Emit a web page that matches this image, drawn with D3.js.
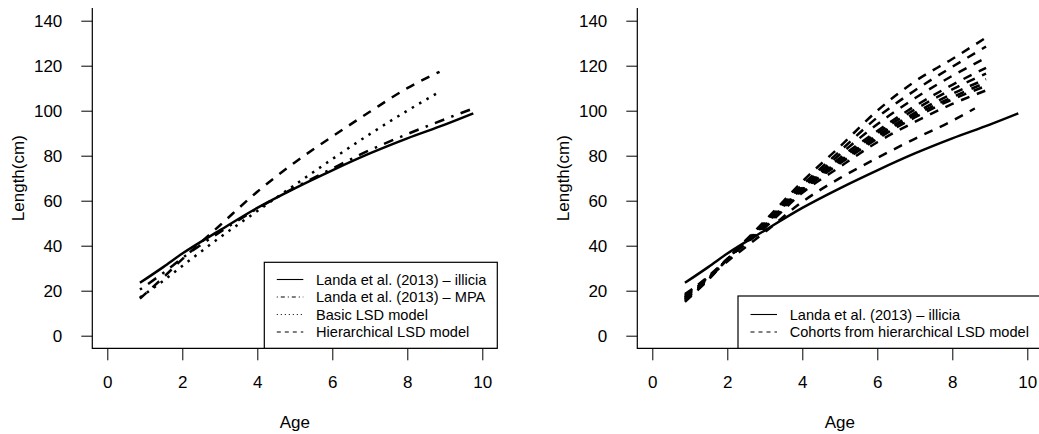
<!DOCTYPE html>
<html><head><meta charset="utf-8">
<script src="https://cdn.jsdelivr.net/npm/d3@7"></script>
<style>
body{margin:0;background:#fff;}
svg{display:block;font-family:"Liberation Sans",Arial,Helvetica,sans-serif;}
</style></head>
<body>
<svg id="chart" width="1039" height="434"></svg>
<script>
// ---------- data ----------
const xTicks = [0, 2, 4, 6, 8, 10];
const yTicks = [0, 20, 40, 60, 80, 100, 120, 140];

const illiciaAge = [0.87, 1.5, 2, 3, 4, 5, 6, 7, 8, 9, 9.76];
const illiciaLen = [23.5, 30.6, 36.5, 46.8, 56.8, 65.5, 73.5, 81, 87.7, 93.8, 98.8];

const mpaAge = [0.87, 1.5, 2, 3, 4, 5, 6, 7, 8, 9, 9.76];
const mpaLen = [20.5, 28, 34.5, 46, 56.5, 65.8, 74.3, 82.5, 89.6, 96.2, 101];

const basicAge = [0.87, 1.5, 2, 3, 4, 5, 6, 7, 8, 8.87];
const basicLen = [17, 24.5, 31, 43.6, 55.4, 67, 78.5, 89.6, 100, 108.5];

const hierAge = [0.87, 1.5, 2, 2.5, 3, 4, 5, 6, 7, 8, 8.86];
const hierLen = [16.5, 26, 34, 41.5, 49, 64, 77, 88.5, 99.5, 110, 117.3];

const cohortAge = [0.87, 1.5, 2, 3, 4, 5, 6, 7, 8, 8.9];
const cohort1 = [15, 25, 34, 51, 68.5, 84, 100, 113, 123, 132.5];
const cohort2 = [15.5, 25, 34, 50.5, 67, 82, 97, 109, 119.5, 128.5];
const cohort3 = [16, 25.5, 34, 50, 66, 80.5, 94, 105.5, 115.5, 123.5];
const cohort4 = [16, 25.5, 34, 49.5, 65.5, 79, 91, 102, 111.5, 119];
const cohort5 = [16.5, 25.5, 34, 49.5, 65.5, 78, 90, 100.5, 109.5, 116.5];
const cohort6 = [17, 26, 34, 49, 65, 77.5, 89, 99, 107.5, 114];
const cohort7 = [17, 26, 34, 49, 65, 77, 88.5, 98, 106, 112.5];
const cohort8 = [17.5, 26, 34, 48.5, 64.5, 76.5, 87.5, 97, 105, 111];
const cohort9 = [18, 26.5, 34, 48, 63.5, 75, 86, 95, 103, 109];
const lowCohortAge = [0.87, 1.5, 2, 3, 4, 5, 6, 7, 8, 8.6];
const lowCohortLen = [18.5, 26, 33, 46, 59.5, 70, 79, 87.5, 95.5, 101];

const leftLegend = ["Landa et al. (2013) \u2013 illicia", "Landa et al. (2013) \u2013 MPA", "Basic LSD model", "Hierarchical LSD model"];
const rightLegend = ["Landa et al. (2013) \u2013 illicia", "Cohorts from hierarchical LSD model"];

// ---------- drawing ----------
const svg = d3.select("#chart");
const DASH = {solid: null, dashdot: "2.5,7.5,10,7.5", dotted: "2.5,6", dashed: "9,8"};
const LDASH = {solid: null, dashdot: "1,3,4,3", dotted: "1,3", dashed: "4,4"};

function panel(x0) {
  const x = d3.scaleLinear().domain([-0.4, 10.4]).range([x0, x0 + 405]);
  const y = d3.scaleLinear().domain([-5.6, 145.6]).range([348.3, 8.1]);
  const g = svg.append("g");
  const ya = g.append("g").attr("transform", `translate(${x0},0)`)
    .call(d3.axisLeft(y).tickValues(yTicks).tickSize(11).tickPadding(19));
  ya.select(".domain").remove();
  ya.selectAll("text").attr("font-size", 17).attr("fill", "#000").attr("font-family", null);
  ya.selectAll("line").attr("stroke", "#000");
  const xa = g.append("g").attr("transform", `translate(0,${y(-5.6)})`)
    .call(d3.axisBottom(x).tickValues(xTicks).tickSize(12).tickPadding(16).tickFormat(d3.format("d")));
  xa.select(".domain").remove();
  xa.selectAll("text").attr("font-size", 17).attr("fill", "#000").attr("font-family", null);
  xa.selectAll("line").attr("stroke", "#000");
  g.append("path").attr("fill", "none").attr("stroke", "#000").attr("stroke-width", 1.2)
    .attr("d", `M${x0},${y(145.6)}V${y(-5.6)}H${x0 + 405}`);
  g.append("text").attr("x", x(5)).attr("y", 427.5).attr("text-anchor", "middle")
    .attr("font-size", 17).text("Age");
  g.append("text").attr("transform", `translate(${x0 - 74},${y(70)}) rotate(-90)`)
    .attr("text-anchor", "middle").attr("dy", "0.35em").attr("font-size", 17).text("Length(cm)");
  return {x, y, g};
}

function curve(p, ages, lens, dash) {
  const line = d3.line().x((d, i) => p.x(ages[i])).y(d => p.y(d)).curve(d3.curveMonotoneX);
  p.g.append("path").datum(lens).attr("fill", "none").attr("stroke", "#000")
    .attr("stroke-width", 2.5).attr("stroke-dasharray", dash).attr("d", line);
}

function legend(p, left, top, right, bottom, labels, styles, rowY) {
  p.g.append("rect").attr("x", left).attr("y", top).attr("width", right - left).attr("height", bottom - top)
    .attr("fill", "#fff").attr("stroke", "#000").attr("stroke-width", 1.2);
  labels.forEach((lab, i) => {
    p.g.append("line").attr("x1", left + 12.5).attr("x2", left + 39).attr("y1", rowY[i]).attr("y2", rowY[i])
      .attr("stroke", "#000").attr("stroke-width", 1.1).attr("stroke-dasharray", LDASH[styles[i]]);
    p.g.append("text").attr("x", left + 51.7).attr("y", rowY[i]).attr("dy", "0.36em")
      .attr("font-size", 14.6).text(lab);
  });
}

const L = panel(92.3);
curve(L, illiciaAge, illiciaLen, DASH.solid);
curve(L, mpaAge, mpaLen, DASH.dashdot);
curve(L, basicAge, basicLen, DASH.dotted);
curve(L, hierAge, hierLen, DASH.dashed);
legend(L, 264.3, 262.3, 497.3, 348.3, leftLegend, ["solid", "dashdot", "dotted", "dashed"], [279.5, 297, 314.5, 332]);

const R = panel(637.3);
[cohort1, cohort2, cohort3, cohort4, cohort5, cohort6, cohort7, cohort8, cohort9]
  .forEach(c => curve(R, cohortAge, c, DASH.dashed));
curve(R, lowCohortAge, lowCohortLen, DASH.dashed);
curve(R, illiciaAge, illiciaLen, DASH.solid);
legend(R, 738, 296, 1045, 348.3, rightLegend, ["solid", "dashed"], [314.5, 332]);
</script>
</body></html>
